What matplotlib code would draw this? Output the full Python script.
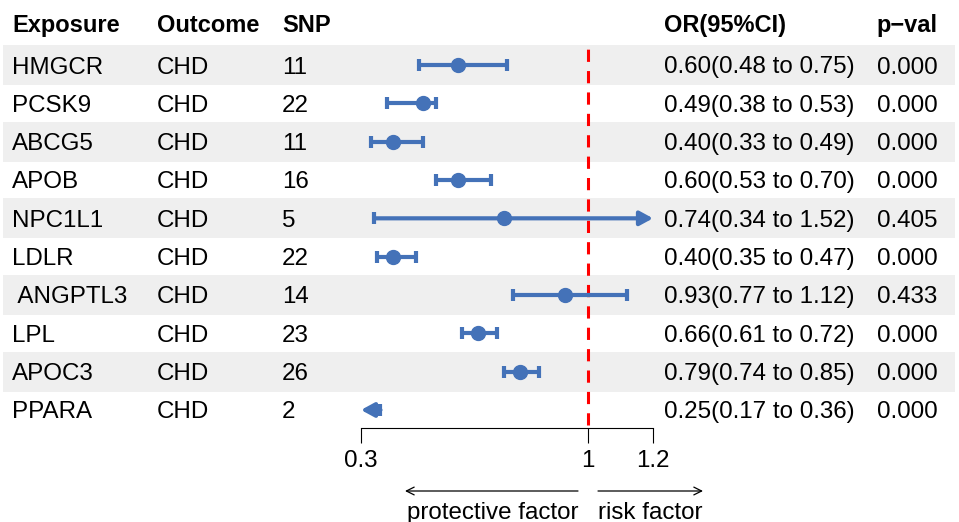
import matplotlib
matplotlib.use("Agg")
import matplotlib.pyplot as plt

plt.rcParams['font.family'] = ['Liberation Sans', 'DejaVu Sans']

# data
exposure = ["HMGCR", "PCSK9", "ABCG5", "APOB", "NPC1L1", "LDLR", " ANGPTL3", "LPL", "APOC3", "PPARA"]
outcome = ["CHD"] * 10
snp = [11, 22, 11, 16, 5, 22, 14, 23, 26, 2]
or_est = [0.60, 0.49, 0.40, 0.60, 0.74, 0.40, 0.93, 0.66, 0.79, 0.25]
or_lo = [0.48, 0.38, 0.33, 0.53, 0.34, 0.35, 0.77, 0.61, 0.74, 0.17]
or_hi = [0.75, 0.53, 0.49, 0.70, 1.52, 0.47, 1.12, 0.72, 0.85, 0.36]
pval = ["0.000", "0.000", "0.000", "0.000", "0.405", "0.000", "0.433", "0.000", "0.000", "0.000"]
headers = ["Exposure", "Outcome", "SNP", "OR(95%CI)", "p\u2212val"]
xticks = [0.3, 1, 1.2]
xtick_labels = ["0.3", "1", "1.2"]
x_range = (0.3, 1.2)
ref_or = 1

W, H = 959, 522
FS = 17.4
blue = "#4472B8"
row0, row_h = 65, 38.33
col_x = [12, 157, 282, 664, 877]

fig = plt.figure(figsize=(W / 100, H / 100), dpi=100)

# background / table axes in pixel coordinates
bg = fig.add_axes([0, 0, 1, 1])
bg.set_xlim(0, W)
bg.set_ylim(H, 0)
bg.axis("off")

rows_y = [row0 + i * row_h for i in range(len(exposure))]

# alternating row shading
shade_y = [y for i, y in enumerate(rows_y) if i % 2 == 0]
bg.barh(shade_y, width=952, left=3, height=40, color="#EFEFEF", zorder=0)

for x, h in zip(col_x, headers):
    bg.text(x if h != "p\u2212val" else 876, 32, h, fontsize=17, fontweight="bold", va="baseline", ha="left")

for i, y in enumerate(rows_y):
    ci_txt = f"{or_est[i]:.2f}({or_lo[i]:.2f} to {or_hi[i]:.2f})"
    cells = [exposure[i], outcome[i], str(snp[i]), ci_txt, pval[i]]
    for x, c in zip(col_x, cells):
        bg.text(x, y + 8.5, c, fontsize=FS, va="baseline", ha="left")

# direction arrows under the axis
bg.annotate("", xy=(405, 491), xytext=(578, 491),
            arrowprops=dict(arrowstyle="->", lw=0.9, color="black", shrinkA=0, shrinkB=0,
                            mutation_scale=14))
bg.annotate("", xy=(703, 491), xytext=(598, 491),
            arrowprops=dict(arrowstyle="->", lw=0.9, color="black", shrinkA=0, shrinkB=0,
                            mutation_scale=14))
bg.text(493, 519, "protective factor", fontsize=FS, ha="center", va="baseline")
bg.text(598, 519, "risk factor", fontsize=FS, ha="left", va="baseline")

# forest axes
ax_bottom = 428
fax = fig.add_axes([361 / W, (H - ax_bottom) / H, 292 / W, ax_bottom / H])
fax.set_xlim(*x_range)
fax.set_ylim(ax_bottom, 0)
fax.patch.set_alpha(0)
for s in ["top", "left", "right"]:
    fax.spines[s].set_visible(False)
fax.spines["bottom"].set_linewidth(0.8)
fax.set_yticks([])
fax.set_xticks(xticks)
fax.set_xticklabels(xtick_labels, fontsize=FS)
fax.tick_params(axis="x", length=10.5, width=0.8, pad=5)

# reference line
fax.plot([ref_or, ref_or], [425, 47], color="#FF0000", lw=2.2, ls=(0, (4.0, 3.0)), zorder=1)

cap = 6
for i, y in enumerate(rows_y):
    lo, hi, est = or_lo[i], or_hi[i], or_est[i]
    left = max(lo, x_range[0])
    right = min(hi, x_range[1])
    arrow_kw = dict(arrowstyle="-|>,head_length=0.55,head_width=0.3", lw=3, color=blue,
                    shrinkA=0, shrinkB=0, mutation_scale=14)
    if hi > x_range[1]:
        fax.annotate("", xy=(right, y), xytext=(left, y), arrowprops=arrow_kw, annotation_clip=False)
    elif lo < x_range[0]:
        fax.annotate("", xy=(left, y), xytext=(right, y), arrowprops=arrow_kw, annotation_clip=False)
    else:
        fax.hlines(y, left, right, color=blue, lw=3, zorder=3)
    if lo >= x_range[0]:
        fax.vlines(lo, y - cap, y + cap, color=blue, lw=3, zorder=3)
    if hi <= x_range[1]:
        fax.vlines(hi, y - cap, y + cap, color=blue, lw=3, zorder=3)
    if x_range[0] <= est <= x_range[1]:
        fax.plot(est, y, "o", color=blue, ms=10, zorder=4, clip_on=False)

fig.savefig("out.png", dpi=100)
